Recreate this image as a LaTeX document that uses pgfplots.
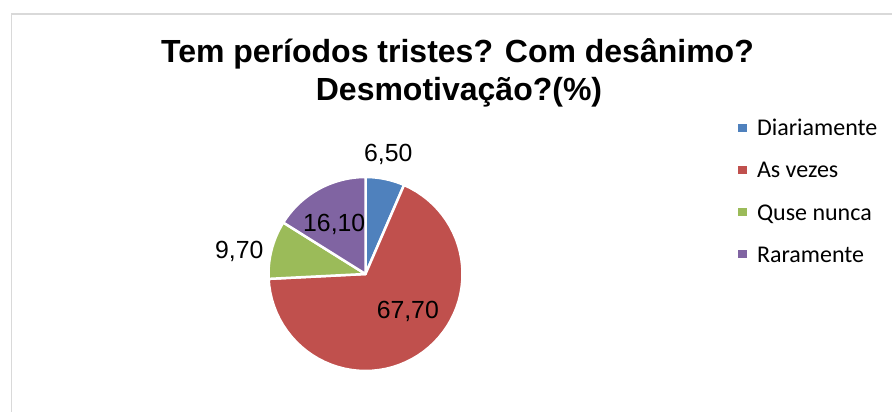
\documentclass[border=0pt]{standalone}
\usepackage{pgfplots}
\pgfplotsset{compat=1.18}
\usepackage{pgfplotstable}
\usepackage{fontspec}
\setmainfont{Liberation Sans}
\newfontfamily\carlito{Carlito}
\definecolor{pieblue}{HTML}{4F81BD}
\definecolor{piered}{HTML}{C0504D}
\definecolor{piegreen}{HTML}{9BBB59}
\definecolor{piepurple}{HTML}{8064A2}
\definecolor{framegray}{HTML}{D9D9D9}
\pgfplotstableread{
label value
Diariamente 6.5
{As vezes} 67.7
{Quse nunca} 9.7
Raramente 16.1
}\piedata
\begin{document}%
\begin{tikzpicture}
\pgfplotstablegetelem{0}{value}\of\piedata \let\vA\pgfplotsretval
\pgfplotstablegetelem{1}{value}\of\piedata \let\vB\pgfplotsretval
\pgfplotstablegetelem{2}{value}\of\piedata \let\vC\pgfplotsretval
\pgfplotstablegetelem{3}{value}\of\piedata \let\vD\pgfplotsretval
\pgfmathsetmacro\aA{90}
\pgfmathsetmacro\bA{\aA-3.6*\vA}
\pgfmathsetmacro\bB{\bA-3.6*\vB}
\pgfmathsetmacro\bC{\bB-3.6*\vC}
\pgfmathsetmacro\bD{\bC-3.6*\vD}
\begin{scope}[overlay]
\begin{axis}[
  at={(0,0)}, anchor=south west,
  width=892bp, height=412bp, scale only axis,
  xmin=0, xmax=892, ymin=0, ymax=412, y dir=reverse,
  hide axis, clip=false,
  legend image code/.code={\path[#1,draw=none] (0bp,4bp) rectangle (9bp,12bp);},
  legend style={at={(axis cs:738,120)}, anchor=north west, draw=none, fill=none,
    inner sep=0pt, outer sep=0pt, row sep=0pt, column sep=10bp,
    font=\carlito\fontsize{24bp}{29bp}\selectfont,
    cells={anchor=base west},
    nodes={inner sep=0pt, outer sep=0pt, text height=15.5bp, text depth=26.8bp}},
  pie/.style={draw=white, line width=2.5bp, line join=round, samples=60, variable=\t},
]
\draw[framegray, line width=1.5bp] (axis cs:11.5,412) -- (axis cs:11.5,14) -- (axis cs:892,14);
\addplot[pie, fill=pieblue, domain=\bA:\aA] ({365.5+97*cos(\t)},{274-97*sin(\t)}) -- (axis cs:365.5,274) -- cycle;
\addlegendentry{Diariamente}
\addplot[pie, fill=piered, domain=\bB:\bA] ({365.5+97*cos(\t)},{274-97*sin(\t)}) -- (axis cs:365.5,274) -- cycle;
\addlegendentry{As vezes}
\addplot[pie, fill=piegreen, domain=\bC:\bB] ({365.5+97*cos(\t)},{274-97*sin(\t)}) -- (axis cs:365.5,274) -- cycle;
\addlegendentry{Quse nunca}
\addplot[pie, fill=piepurple, domain=\bD:\bC] ({365.5+97*cos(\t)},{274-97*sin(\t)}) -- (axis cs:365.5,274) -- cycle;
\addlegendentry{Raramente}
\begin{scope}[every node/.style={inner sep=0pt, anchor=base, font=\fontsize{24.8bp}{29bp}\selectfont}]
\node at (axis cs:388.3,161.7) {6,50};
\node at (axis cs:407.8,318.3) {67,70};
\node at (axis cs:239.2,258.3) {9,70};
\node at (axis cs:334.2,231.7) {16,10};
\end{scope}
\begin{scope}[every node/.style={inner sep=0pt, anchor=base, font=\bfseries\fontsize{32bp}{37bp}\selectfont}]
\node at (axis cs:457.5,63) {Tem períodos tristes? Com desânimo?};
\node at (axis cs:459,100.7) {Desmotivação?(\%)};
\end{scope}
\end{axis}
\end{scope}
\path (0,0) rectangle (892bp,412bp);
\end{tikzpicture}%
\end{document}
